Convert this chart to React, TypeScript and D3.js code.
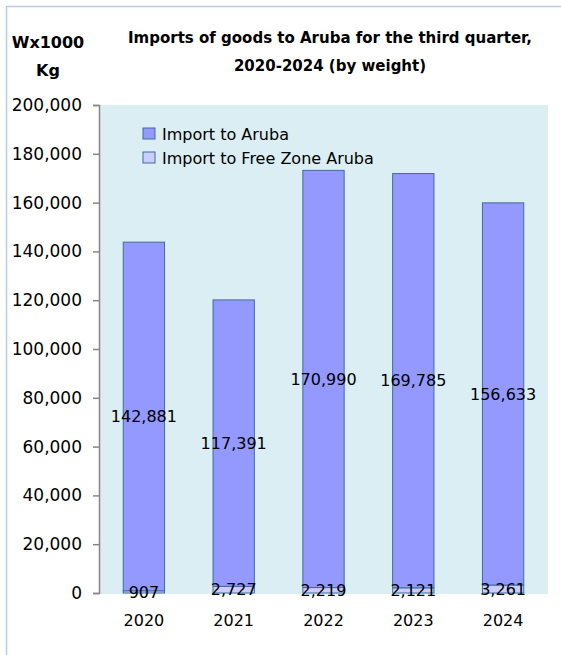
import { useEffect, useRef } from "react";
import * as d3 from "d3";

// data (weight x 1000 kg)
const years = ["2020", "2021", "2022", "2023", "2024"];
const importAruba = [142881, 117391, 170990, 169785, 156633];
const importFreeZone = [907, 2727, 2219, 2121, 3261];
const seriesNames = ["Import to Aruba", "Import to Free Zone Aruba"];
const yTicks = [0, 20000, 40000, 60000, 80000, 100000, 120000, 140000, 160000, 180000, 200000];

const WIDTH = 561;
const HEIGHT = 655;
const FONT = "'DejaVu Sans', sans-serif";

export default function App() {
  const svgRef = useRef<SVGSVGElement | null>(null);

  useEffect(() => {
    if (!svgRef.current) return;
    const svg = d3.select(svgRef.current);
    svg.selectAll("*").remove();

    const left = 99;
    const right = 548;
    const top = 105;
    const bottom = 593;

    const x = d3
      .scaleBand<string>()
      .domain(years)
      .range([left, right])
      .paddingInner(0.54)
      .paddingOuter(0.27);

    const y = d3.scaleLinear().domain([0, 200000]).range([bottom, top]);

    // outer chart border (runs off the right and bottom edges)
    svg
      .append("rect")
      .attr("x", 6.5)
      .attr("y", 6.5)
      .attr("width", WIDTH + 40)
      .attr("height", HEIGHT + 40)
      .attr("fill", "white")
      .attr("stroke", "#B9CDE5")
      .attr("stroke-width", 1.5);

    // plot area
    svg
      .append("rect")
      .attr("x", left)
      .attr("y", top)
      .attr("width", right - left)
      .attr("height", bottom - top + 1)
      .attr("fill", "#DAEEF3");

    // titles
    const title = svg
      .append("text")
      .attr("text-anchor", "middle")
      .attr("font-family", FONT)
      .attr("font-weight", "bold")
      .attr("font-size", 15)
      .attr("fill", "#000");
    title.append("tspan").attr("x", 330).attr("y", 43).text("Imports of goods to Aruba for the third quarter,");
    title.append("tspan").attr("x", 330).attr("y", 71).text("2020-2024 (by weight)");

    const unit = svg
      .append("text")
      .attr("text-anchor", "middle")
      .attr("font-family", FONT)
      .attr("font-weight", "bold")
      .attr("font-size", 16)
      .attr("fill", "#000");
    unit.append("tspan").attr("x", 48).attr("y", 48).text("Wx1000");
    unit.append("tspan").attr("x", 48).attr("y", 76).text("Kg");

    // stacked bars
    const stackData = years.map((yr, i) => ({
      year: yr,
      free: importFreeZone[i],
      aruba: importAruba[i],
    }));
    const stack = d3.stack<(typeof stackData)[number]>().keys(["free", "aruba"]);
    const layers = stack(stackData);
    const fills = { free: "#CCCCFF", aruba: "#9499FF" };

    layers.forEach((layer) => {
      const key = layer.key as "free" | "aruba";
      svg
        .append("g")
        .selectAll("rect")
        .data(layer)
        .enter()
        .append("rect")
        .attr("x", (d) => x(d.data.year)!)
        .attr("y", (d) => y(d[1]))
        .attr("width", x.bandwidth())
        .attr("height", (d) => y(d[0]) - y(d[1]))
        .attr("fill", fills[key])
        .attr("stroke", "#3F6D9E")
        .attr("stroke-width", 1);
    });

    // data labels, centred in each segment
    layers.forEach((layer) => {
      svg
        .append("g")
        .selectAll("text")
        .data(layer)
        .enter()
        .append("text")
        .attr("x", (d) => x(d.data.year)! + x.bandwidth() / 2)
        .attr("y", (d) => (y(d[0]) + y(d[1])) / 2)
        .attr("dy", "0.36em")
        .attr("text-anchor", "middle")
        .attr("font-family", FONT)
        .attr("font-size", 16)
        .attr("fill", "#000")
        .text((d) => d3.format(",")(d[1] - d[0]));
    });

    // y axis
    const yAxis = svg
      .append("g")
      .attr("transform", `translate(${left},0)`)
      .call(
        d3
          .axisLeft(y)
          .tickValues(yTicks)
          .tickSize(6)
          .tickPadding(11)
          .tickFormat((d) => d3.format(",")(d as number))
      );
    yAxis.select(".domain").attr("stroke", "#868686").attr("stroke-width", 1.5);
    yAxis.selectAll(".tick line").attr("stroke", "#868686").attr("stroke-width", 1.5);
    yAxis
      .selectAll(".tick text")
      .attr("font-family", FONT)
      .attr("font-size", 17)
      .attr("fill", "#000");

    // x axis labels
    svg
      .append("g")
      .selectAll("text")
      .data(years)
      .enter()
      .append("text")
      .attr("x", (d) => x(d)! + x.bandwidth() / 2)
      .attr("y", 626)
      .attr("text-anchor", "middle")
      .attr("font-family", FONT)
      .attr("font-size", 16)
      .attr("fill", "#000")
      .text((d) => d);

    // legend
    const legend = svg.append("g").attr("transform", "translate(143,128)");
    const legendFills = [fills.aruba, fills.free];
    seriesNames.forEach((name, i) => {
      const g = legend.append("g").attr("transform", `translate(0,${i * 24})`);
      g.append("rect")
        .attr("width", 12)
        .attr("height", 11)
        .attr("fill", legendFills[i])
        .attr("stroke", "#3F6D9E")
        .attr("stroke-width", 1);
      g.append("text")
        .attr("x", 19)
        .attr("y", 6)
        .attr("dy", "0.36em")
        .attr("font-family", FONT)
        .attr("font-size", 16)
        .attr("fill", "#000")
        .text(name);
    });
  }, []);

  return (
    <svg
      ref={svgRef}
      width={WIDTH}
      height={HEIGHT}
      style={{ position: "absolute", left: 0, top: 0 }}
    />
  );
}
